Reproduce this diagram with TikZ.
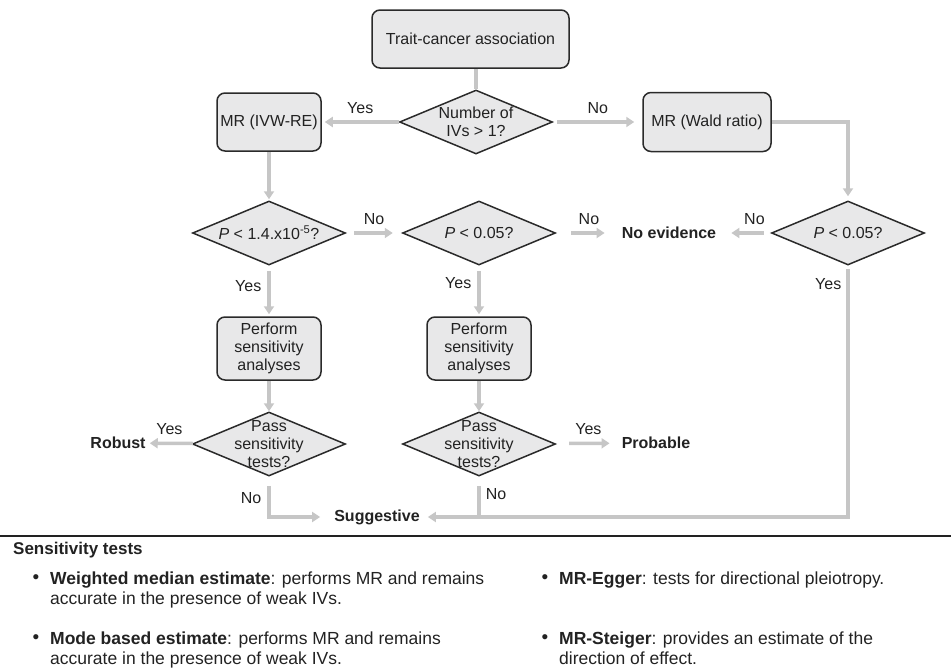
\documentclass[tikz,border=0pt]{standalone}
\usepackage{fontspec}
\setmainfont{Liberation Sans}
\usetikzlibrary{arrows.meta}
\usetikzlibrary{shapes.geometric}
\definecolor{boxfill}{HTML}{E8E8E9}
\definecolor{boxline}{HTML}{2A2A2A}
\definecolor{flowgray}{HTML}{C6C6C6}
\definecolor{inkgray}{HTML}{222222}

\begin{document}
\begin{tikzpicture}[x=1pt,y=-1pt,>={Triangle[length=8pt,width=10pt]},text=inkgray,
		font=\fontsize{16}{18}\selectfont,
		process/.style={draw=boxline,fill=boxfill,line width=1.5pt,rounded corners=8pt,align=center,inner sep=0pt},
		decision/.style={draw=boxline,fill=boxfill,line width=1.5pt,diamond,minimum width=153pt,minimum height=64pt,inner sep=0pt},
		dlabel/.style={align=center,inner sep=0pt},
		flow/.style={draw=flowgray,line width=3.5pt,->},
		link/.style={draw=flowgray,line width=3.5pt},
		answer/.style={inner sep=0pt},
		outcome/.style={font=\bfseries\fontsize{16}{18}\selectfont,inner sep=0pt},
		bul/.style={inner sep=0pt,font=\fontsize{19}{21}\selectfont},
		itemtext/.style={anchor=north west,align=left,inner sep=0pt,font=\fontsize{17.5}{20.5}\selectfont}]
		\useasboundingbox (0,0) rectangle (951,670);
		
		\node[process,minimum width=197pt,minimum height=58pt] (trait) at (470.5,39) {Trait-cancer association};
		\node[decision,label={[dlabel]center:Number of\\IVs > 1?}] (nivs) at (476,122) {};
		\node[process,minimum width=104pt,minimum height=58pt] (ivw) at (269,122) {MR (IVW-RE)};
		\node[process,minimum width=128pt,minimum height=59pt] (wald) at (707,122) {MR (Wald ratio)};
		
		\node[decision,label={[dlabel]center:\textit{P} < 1.4.x10\textsuperscript{-5}?}] (pstrict) at (269,233) {};
		\node[decision,label={[dlabel]center:\textit{P} < 0.05?}] (pnom) at (479,233) {};
		\node[decision,label={[dlabel]center:\textit{P} < 0.05?}] (pwald) at (848,233) {};
		\node[outcome] (noev) at (669,233) {No evidence};
		
		\node[process,minimum width=104pt,minimum height=63pt] (sens1) at (269,348.5) {Perform\\sensitivity\\analyses};
		\node[process,minimum width=104pt,minimum height=63pt] (sens2) at (479,348.5) {Perform\\sensitivity\\analyses};
		
		\node[decision,label={[dlabel]center:Pass\\sensitivity\\tests?}] (pass1) at (269,444) {};
		\node[decision,label={[dlabel]center:Pass\\sensitivity\\tests?}] (pass2) at (479,444) {};
		\node[outcome] (robust) at (118,443) {Robust};
		\node[outcome] (probable) at (656,443) {Probable};
		\node[outcome] (sugg) at (377,517) {Suggestive};
		\coordinate (join) at (pass2 |- sugg);
		
		\draw[link] (nivs.north |- trait.south) -- (nivs.north);
		\draw[flow,shorten >=3pt] (nivs) -- node[answer,above=7pt]{Yes} (ivw);
		\draw[flow,shorten <=4pt,shorten >=8pt] (nivs) -- node[answer,above=7pt]{No} (wald);
		\draw[flow,shorten >=1pt] (ivw) -- (pstrict);
		\draw[flow,shorten >=4pt] (wald.east) -| (pwald.north);
		
		\draw[flow,shorten <=8pt,shorten >=9pt] (pstrict) -- node[answer,above=7pt]{No} (pnom);
		\draw[flow,shorten <=15pt,shorten >=17pt] (pnom) -- node[answer,above=7pt]{No} (noev);
		\draw[flow,shorten <=7pt,shorten >=15pt] (pwald) -- node[answer,above=7pt,pos=0.3]{No} (noev);
		
		\draw[flow,shorten <=5pt,shorten >=2pt] (pstrict) -- node[answer,left=6pt,pos=0.4]{Yes} (sens1);
		\draw[flow,shorten <=5pt,shorten >=2pt] (pnom) -- node[answer,left=6pt,pos=0.35]{Yes} (sens2);
		\draw[flow] (sens1) -- (pass1);
		\draw[flow] (sens2) -- (pass2);
		
		\draw[flow,shorten >=4pt] (pass1) -- node[answer,above=7pt]{Yes} (robust);
		\draw[flow,shorten <=14pt,shorten >=12pt] (pass2) -- node[answer,above=7pt]{Yes} (probable);
		\draw[flow,shorten <=9pt,shorten >=14pt] (pass1) |- node[answer,pos=0.26,left=6pt]{No} (sugg);
		\draw[link,shorten <=9pt] (pass2) -- node[answer,pos=0.44,right=5pt]{No} (join);
		\draw[flow,shorten <=3pt,shorten >=8pt] (pwald) |- node[answer,pos=0.036,left=5pt]{Yes} (sugg);
		
		\draw[line width=2.5pt,draw=inkgray] (0,536) -- (951,536);
		\node[anchor=west,inner sep=0pt,font=\bfseries\fontsize{17}{18}\selectfont] (senshead) at (13,550) {Sensitivity tests};
		
		\node[bul] (bwm) at (36,579) {\textbullet};
		\node[itemtext] (twm) at (50,571.5) {\textbf{Weighted median estimate}: performs MR and remains\\accurate in the presence of weak IVs.};
		\node[bul] (bmb) at (36,639) {\textbullet};
		\node[itemtext] (tmb) at (50,631.5) {\textbf{Mode based estimate}: performs MR and remains\\accurate in the presence of weak IVs.};
		\node[bul] (beg) at (545,579) {\textbullet};
		\node[itemtext] (teg) at (559,571.5) {\textbf{MR-Egger}: tests for directional pleiotropy.};
		\node[bul] (bst) at (545,639) {\textbullet};
		\node[itemtext] (tst) at (559,631.5) {\textbf{MR-Steiger}: provides an estimate of the\\direction of effect.};
	\end{tikzpicture}
\end{document}
